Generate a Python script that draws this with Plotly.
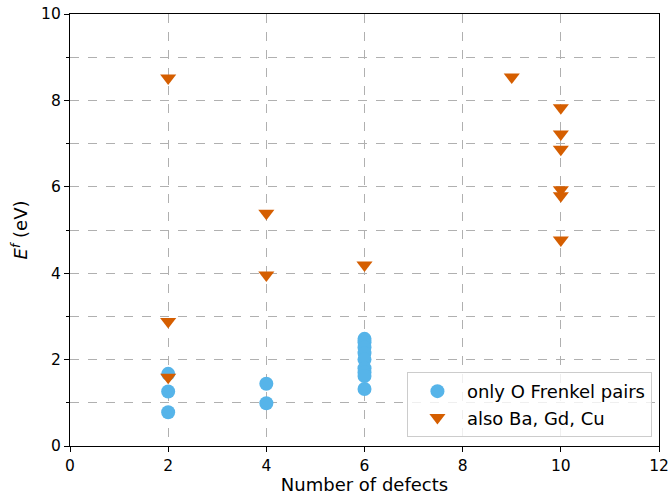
import plotly.graph_objects as go

# Data
frenkel_x = [2, 2, 2, 4, 4, 6, 6, 6, 6, 6, 6, 6, 6, 6]
frenkel_y = [1.67, 1.26, 0.78, 1.44, 0.99, 2.48, 2.40, 2.28, 2.15, 2.00, 1.80, 1.70, 1.62, 1.32]

cation_x = [2, 2, 2, 4, 4, 6, 9, 10, 10, 10, 10, 10, 10]
cation_y = [8.52, 2.88, 1.59, 5.39, 3.96, 4.19, 8.54, 7.83, 7.22, 6.87, 5.93, 5.79, 4.77]

x_ticks = [0, 2, 4, 6, 8, 10, 12]
y_ticks = [0, 2, 4, 6, 8, 10]

fig = go.Figure()
fig.add_trace(go.Scatter(x=frenkel_x, y=frenkel_y, mode="markers",
                         name="only O Frenkel pairs",
                         marker=dict(symbol="circle", size=14, color="#56B4E9")))
fig.add_trace(go.Scatter(x=cation_x, y=cation_y, mode="markers",
                         name="also Ba, Gd, Cu",
                         marker=dict(symbol="triangle-down", size=14, color="#D55E00")))

axis_common = dict(showline=True, linecolor="black", linewidth=1.2, mirror=True,
                   ticks="outside", ticklen=5, tickcolor="black",
                   showgrid=True, gridcolor="#b0b0b0", griddash="dash", gridwidth=1,
                   zeroline=False, tickfont=dict(size=15.5, color="black"),
                   automargin=False)

fig.update_xaxes(range=[0, 12], tickvals=x_ticks, **axis_common,
                 title=dict(text="Number of defects", font=dict(size=18, color="black")))
fig.update_yaxes(range=[0, 10], tickvals=y_ticks, **axis_common,
                 minor=dict(dtick=1, showgrid=True, gridcolor="#b0b0b0", griddash="dash",
                            ticks="outside", ticklen=3, tickcolor="black"),
                 title=dict(text="<i>E</i><sup><i>f</i></sup> (eV)", font=dict(size=18, color="black"),
                            standoff=8))

fig.update_layout(
    width=670, height=495,
    margin=dict(l=70, r=11, t=14, b=49),
    plot_bgcolor="white", paper_bgcolor="white",
    font=dict(family="DejaVu Sans", color="black"),
    legend=dict(x=0.988, y=0.021, xanchor="right", yanchor="bottom",
                bgcolor="rgba(255,255,255,0.8)", bordercolor="#cccccc", borderwidth=1,
                font=dict(size=18), itemsizing="trace", itemwidth=49),
    showlegend=True,
)

fig.write_html("out.html", post_script="document.body.style.margin='0';",
               config={"displayModeBar": False})
